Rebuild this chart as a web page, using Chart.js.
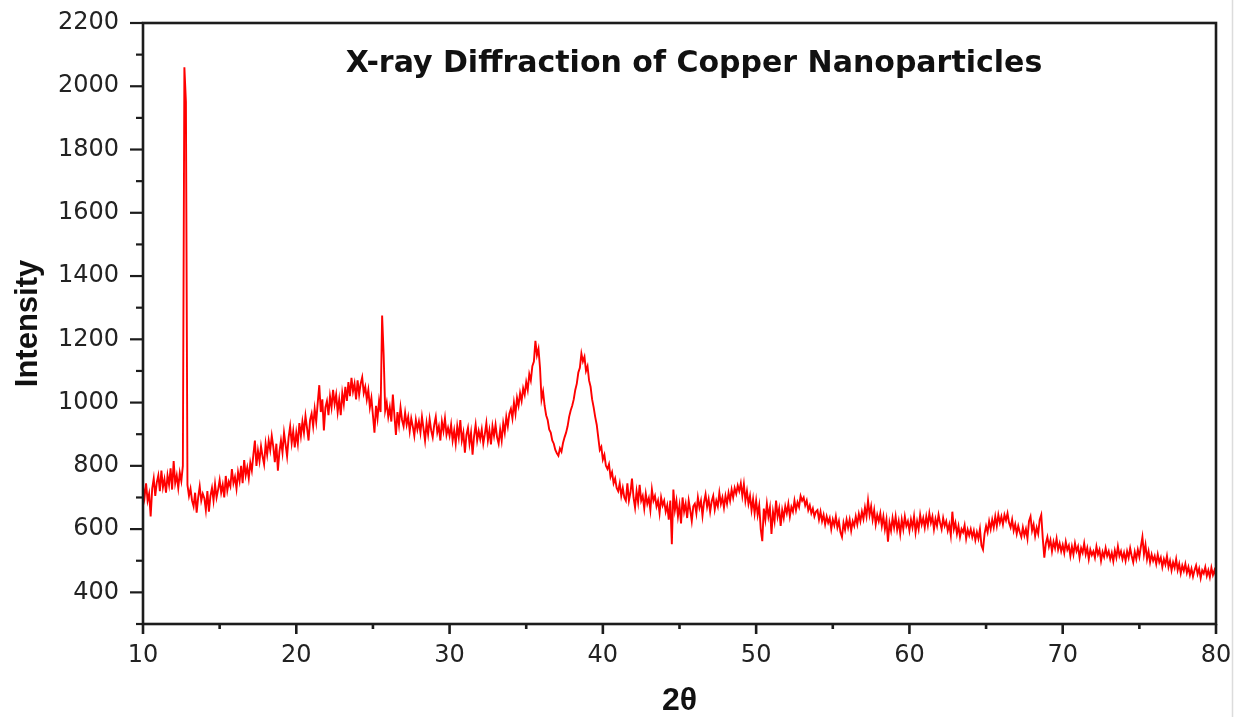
<!DOCTYPE html>
<html>
<head>
<meta charset="utf-8">
<title>X-ray Diffraction of Copper Nanoparticles</title>
<script src="https://cdn.jsdelivr.net/npm/chart.js@4.4.1/dist/chart.umd.min.js"></script>
<style>
  html, body { margin: 0; padding: 0; background: #fff; }
  #wrap { width: 1240px; height: 717px; position: relative; }
</style>
</head>
<body>
<div id="wrap"><canvas id="xrd"></canvas></div>
<script>
// 2theta from 10 to 80 in 0.1 degree steps
const angleStart = 10;
const angleStep = 0.1;

// intensity, 20 points per row (2 degrees)
const intensity = [
  735, 700, 745, 690, 712, 640, 728, 760, 705, 748, 770, 720, 785, 732, 758, 715, 770, 740, 792, 725,
  815, 745, 770, 730, 778, 752, 800, 2060, 1950, 740, 705, 728, 690, 672, 715, 652, 700, 735, 690, 712,
  698, 660, 720, 655, 705, 730, 690, 742, 700, 725, 755, 715, 740, 700, 768, 722, 750, 735, 790, 745,
  765, 728, 780, 752, 800, 745, 818, 770, 795, 760, 810, 785, 835, 880, 800, 848, 815, 862, 830, 805,
  870, 835, 880, 850, 895, 860, 812, 870, 785, 845, 880, 842, 905, 868, 830, 890, 925, 872, 910, 858,
  905, 870, 935, 895, 940, 905, 958, 920, 880, 945, 965, 925, 980, 940, 1000, 1055, 970, 1010, 912, 985,
  1005, 960, 1020, 985, 1040, 995, 1025, 970, 1010, 960, 1030, 995, 1050, 1005, 1065, 1020, 1078, 1035, 1060, 1010,
  1070, 1025, 1060, 1080, 1030, 1050, 1010, 1040, 985, 1015, 960, 905, 990, 950, 1005, 970, 1275, 1150, 975, 1000,
  955, 985, 940, 1025, 960, 898, 970, 930, 985, 945, 925, 968, 930, 955, 910, 950, 925, 895, 945, 915,
  940, 905, 955, 918, 880, 935, 900, 948, 912, 890, 930, 955, 905, 925, 880, 940, 910, 950, 898, 920,
  895, 930, 880, 912, 870, 925, 890, 945, 880, 905, 842, 898, 920, 870, 905, 835, 895, 930, 880, 910,
  885, 915, 870, 900, 935, 880, 912, 868, 925, 895, 930, 890, 870, 915, 880, 935, 905, 955, 925, 965,
  980, 950, 1000, 965, 1015, 990, 1030, 1005, 1045, 1025, 1065, 1040, 1090, 1070, 1115, 1130, 1195, 1150, 1170, 1110,
  1010, 1035, 990, 960, 945, 915, 905, 880, 870, 850, 840, 832, 855, 845, 872, 890, 905, 925, 955, 975,
  990, 1010, 1040, 1060, 1095, 1110, 1155, 1130, 1145, 1100, 1115, 1070, 1050, 1010, 985, 955, 930, 890, 850, 860,
  820, 835, 800, 790, 805, 765, 780, 745, 760, 730, 720, 745, 705, 730, 700, 690, 745, 690, 715, 760,
  700, 668, 720, 685, 740, 690, 705, 665, 712, 680, 698, 660, 725, 690, 705, 672, 690, 650, 700, 675,
  690, 655, 675, 630, 690, 552, 725, 660, 690, 640, 675, 618, 700, 655, 680, 635, 690, 660, 625, 672,
  680, 650, 700, 668, 690, 642, 685, 710, 670, 695, 655, 688, 705, 662, 690, 672, 715, 680, 700, 668,
  705, 680, 715, 690, 725, 700, 730, 712, 738, 720, 745, 705, 742, 690, 720, 680, 705, 660, 695, 650,
  690, 645, 675, 600, 562, 665, 630, 680, 640, 668, 585, 655, 625, 690, 640, 665, 610, 660, 635, 672,
  650, 680, 640, 670, 655, 690, 660, 685, 670, 705, 690, 700, 675, 690, 660, 675, 650, 665, 640, 655,
  660, 630, 655, 625, 645, 615, 640, 620, 635, 600, 630, 612, 640, 605, 625, 590, 575, 620, 598, 630,
  605, 630, 595, 625, 610, 640, 615, 648, 625, 655, 632, 668, 640, 690, 645, 672, 630, 660, 615, 645,
  625, 650, 610, 640, 600, 630, 560, 620, 595, 635, 605, 640, 598, 625, 585, 630, 600, 640, 610, 625,
  595, 630, 605, 640, 590, 625, 600, 645, 615, 635, 605, 640, 612, 650, 620, 640, 600, 632, 610, 645,
  620, 600, 635, 610, 625, 595, 615, 580, 655, 600, 620, 585, 610, 575, 600, 590, 612, 570, 598, 580,
  600, 575, 595, 565, 590, 570, 600, 548, 535, 585, 610, 590, 625, 600, 630, 605, 640, 610, 645, 620,
  640, 615, 645, 628, 650, 620, 605, 630, 595, 615, 585, 610, 590, 575, 605, 580, 600, 570, 625, 640,
  595, 615, 578, 605, 585, 630, 645, 570, 510, 555, 575, 545, 565, 530, 560, 540, 570, 535, 555, 530,
  550, 525, 560, 535, 548, 515, 545, 520, 555, 530, 545, 510, 540, 525, 555, 520, 540, 505, 535, 518,
  530, 510, 545, 520, 535, 500, 528, 512, 540, 515, 530, 505, 525, 498, 532, 510, 545, 515, 530, 505,
  525, 500, 530, 510, 540, 515, 495, 528, 505, 535, 512, 545, 575, 520, 550, 505, 530, 495, 520, 500,
  515, 490, 520, 495, 510, 480, 505, 488, 515, 480, 500, 470, 495, 478, 505, 470, 490, 460, 485, 468,
  490, 462, 480, 455, 475, 450, 470, 485, 458, 475, 445, 470, 460, 480, 452, 470, 448, 478, 455, 470,
  450
];

const angles = intensity.map((_, i) => +(angleStart + i * angleStep).toFixed(1));

const xTicks = [10, 20, 30, 40, 50, 60, 70, 80];
const xMinorTicks = [15, 25, 35, 45, 55, 65, 75];
const yTicks = [400, 600, 800, 1000, 1200, 1400, 1600, 1800, 2000, 2200];
const yMinorTicks = [300, 500, 700, 900, 1100, 1300, 1500, 1700, 1900, 2100];

const chartTitle = 'X-ray Diffraction of Copper Nanoparticles';

const frame = {
  id: 'frame',
  afterDraw(chart) {
    const { ctx, chartArea: a, scales: { x, y } } = chart;
    const seg = (x1, y1, x2, y2) => {
      ctx.beginPath();
      ctx.moveTo(x1, y1);
      ctx.lineTo(x2, y2);
      ctx.stroke();
    };
    ctx.save();
    ctx.strokeStyle = '#1c1c1c';
    ctx.lineWidth = 2.6;
    ctx.strokeRect(a.left, a.top, a.right - a.left, a.bottom - a.top);

    // y ticks, outward
    ctx.lineWidth = 2.2;
    yTicks.forEach(v => { const p = y.getPixelForValue(v); seg(a.left - 13, p, a.left, p); });
    yMinorTicks.forEach(v => { const p = y.getPixelForValue(v); seg(a.left - 7, p, a.left, p); });
    // x ticks, outward
    ctx.lineWidth = 2.6;
    xTicks.forEach(v => { const p = x.getPixelForValue(v); seg(p, a.bottom, p, a.bottom + 10); });
    xMinorTicks.forEach(v => { const p = x.getPixelForValue(v); seg(p, a.bottom, p, a.bottom + 5); });

    // faint window edge on the right
    ctx.strokeStyle = '#dcdcdc';
    ctx.lineWidth = 1.5;
    seg(1232.5, 0, 1232.5, chart.height);

    // title inside the plot
    ctx.fillStyle = '#111';
    ctx.font = 'bold 30px "DejaVu Sans", sans-serif';
    ctx.textAlign = 'center';
    ctx.textBaseline = 'middle';
    ctx.fillText(chartTitle, a.left + 551, a.top + 41);
    ctx.restore();
  }
};

new Chart(document.getElementById('xrd'), {
  type: 'line',
  data: {
    datasets: [{
      label: 'Cu nanoparticles',
      data: angles.map((a, i) => ({ x: a, y: intensity[i] })),
      borderColor: '#ff0000',
      borderWidth: 1.9,
      pointRadius: 0,
      tension: 0,
      fill: false
    }]
  },
  options: {
    responsive: true,
    maintainAspectRatio: false,
    animation: false,
    layout: { padding: { top: 23, right: 24, left: 0, bottom: 0 } },
    plugins: {
      legend: { display: false },
      tooltip: { enabled: false }
    },
    scales: {
      x: {
        type: 'linear',
        min: 10,
        max: 80,
        afterBuildTicks: s => { s.ticks = xTicks.map(v => ({ value: v })); },
        afterFit: s => { s.height = 93; s.paddingLeft = 0; s.paddingRight = 0; },
        grid: { display: false, drawTicks: false },
        border: { display: false },
        ticks: {
          padding: 17,
          color: '#222',
          font: { family: '"DejaVu Sans", sans-serif', size: 24 },
          maxRotation: 0,
          callback: v => String(v)
        },
        title: {
          display: true,
          text: '2θ',
          color: '#111',
          font: { family: '"Liberation Sans", Arial, sans-serif', size: 32, weight: 'bold', lineHeight: 1 },
          padding: { top: 0, bottom: 0 }
        }
      },
      y: {
        type: 'linear',
        min: 300,
        max: 2200,
        afterBuildTicks: s => { s.ticks = yTicks.map(v => ({ value: v })); },
        afterFit: s => { s.width = 143; s.paddingTop = 0; s.paddingBottom = 0; },
        grid: { display: false, drawTicks: false },
        border: { display: false },
        ticks: {
          padding: 24,
          color: '#222',
          font: { family: '"DejaVu Sans", sans-serif', size: 24 },
          callback: v => String(v)
        },
        title: {
          display: true,
          text: 'Intensity',
          color: '#111',
          font: { family: '"Liberation Sans", Arial, sans-serif', size: 31, weight: 'bold', lineHeight: 1 },
          padding: { top: 13, bottom: 0 }
        }
      }
    }
  },
  plugins: [frame]
});
</script>
</body>
</html>
